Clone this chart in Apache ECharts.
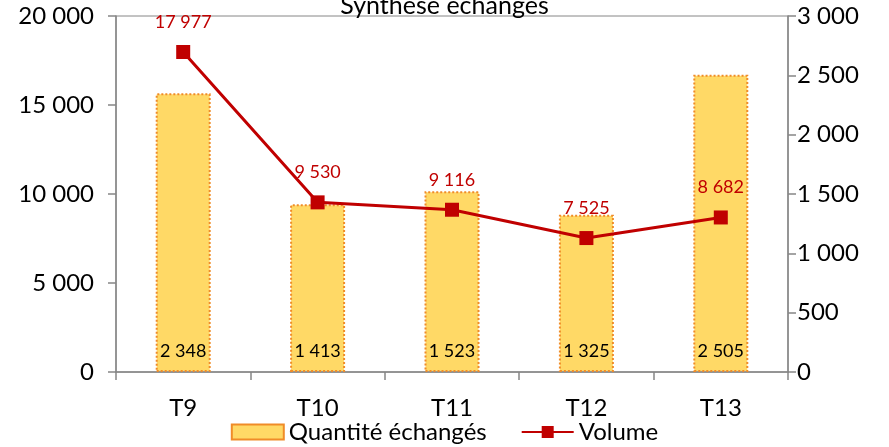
<!DOCTYPE html>
<html>
<head>
<meta charset="utf-8">
<script src="https://cdn.jsdelivr.net/npm/echarts@6/dist/echarts.min.js"></script>
<style>
  html, body { margin: 0; padding: 0; background: #fff; }
  #chart { width: 889px; height: 447px; }
</style>
</head>
<body>
<div id="chart"></div>
<script>
const categories = ['T9', 'T10', 'T11', 'T12', 'T13'];
const quantite = [2348, 1413, 1523, 1325, 2505];
const volume = [17977, 9530, 9116, 7525, 8682];

const font = 'Lato, "Open Sans", sans-serif';
const axisGray = '#868686';

// séparateur des milliers : espace
function fmt(v) {
  return String(Math.round(v)).replace(/\B(?=(\d{3})+(?!\d))/g, ' ');
}

const chart = echarts.init(document.getElementById('chart'));

const option = {
  animation: false,
  textStyle: { fontFamily: font },
  title: {
    text: 'Synthèse échanges',
    left: 'center',
    top: -12,
    textStyle: { fontFamily: font, fontSize: 25, fontWeight: 'normal', color: '#000' }
  },
  legend: {
    bottom: -2,
    left: 'center',
    itemWidth: 52,
    itemHeight: 15,
    itemGap: 34,
    textStyle: { fontFamily: font, fontSize: 24, color: '#000', padding: [0, 0, 0, 0] },
    data: [
      { name: 'Quantité échangés', icon: 'rect' },
      { name: 'Volume' }
    ]
  },
  grid: {
    left: 116,
    right: 101,
    top: 16,
    bottom: 75,
    show: true,
    borderColor: axisGray,
    borderWidth: 1
  },
  xAxis: {
    type: 'category',
    data: categories,
    axisLine: { lineStyle: { color: axisGray, width: 1.5 } },
    axisTick: { show: true, length: 8, lineStyle: { color: axisGray, width: 1.5 } },
    axisLabel: { fontFamily: font, fontSize: 24, color: '#000', margin: 24 }
  },
  yAxis: [
    {
      type: 'value',
      min: 0,
      max: 20000,
      interval: 5000,
      position: 'left',
      axisLine: { show: true, lineStyle: { color: axisGray, width: 1.5 } },
      axisTick: { show: true, length: 8, lineStyle: { color: axisGray, width: 1.5 } },
      splitLine: { show: false },
      axisLabel: { fontFamily: font, fontSize: 24, color: '#000', margin: 22, formatter: fmt }
    },
    {
      type: 'value',
      min: 0,
      max: 3000,
      interval: 500,
      position: 'right',
      axisLine: { show: true, lineStyle: { color: axisGray, width: 1.5 } },
      axisTick: { show: true, length: 8, lineStyle: { color: axisGray, width: 1.5 } },
      splitLine: { show: false },
      axisLabel: { fontFamily: font, fontSize: 24, color: '#000', margin: 9, formatter: fmt }
    }
  ],
  series: [
    {
      name: 'Quantité échangés',
      type: 'bar',
      yAxisIndex: 1,
      data: quantite,
      barWidth: 55,
      itemStyle: {
        color: '#FFD966',
        borderColor: '#F08C28',
        borderWidth: 2,
        borderType: 'dotted'
      },
      label: {
        show: true,
        position: 'insideBottom',
        distance: 12,
        fontFamily: font,
        fontSize: 18,
        color: '#000',
        formatter: p => fmt(p.value)
      },
      z: 2
    },
    {
      name: 'Volume',
      type: 'line',
      yAxisIndex: 0,
      data: volume,
      symbol: 'rect',
      symbolSize: 14,
      lineStyle: { color: '#C00000', width: 3 },
      itemStyle: { color: '#C00000' },
      label: {
        show: true,
        position: 'top',
        distance: 14,
        fontFamily: font,
        fontSize: 18,
        color: '#C00000',
        formatter: p => fmt(p.value)
      },
      z: 3
    }
  ]
};

chart.setOption(option);
</script>
</body>
</html>
